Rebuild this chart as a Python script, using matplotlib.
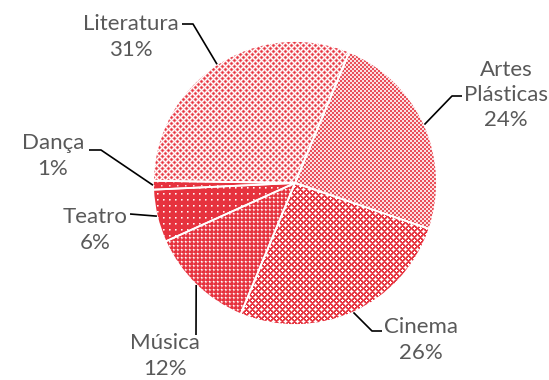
import numpy as np
import matplotlib.pyplot as plt

# dados do gráfico (sentido horário a partir de Artes Plásticas)
categorias = ['Artes\nPlásticas', 'Cinema', 'Música', 'Teatro', 'Dança', 'Literatura']
percentuais = [24, 26, 12, 6, 1, 31]

# posição dos rótulos e cotovelo das linhas de chamada (em pixels)
pos_rotulos = [(506, 95), (421, 340), (165, 356), (95, 230), (53, 156), (131, 37)]
cotovelos = [[(452, 96), (462, 96)],
             [(372, 331), (382, 331)],
             [(196, 335)],
             [(130, 214)],
             [(101, 150), (89, 150)],
             [(193, 24), (182, 24)]]

W, H = 549, 380
vermelho = np.array([230, 50, 62]) / 255

# padrões de preenchimento tipo Excel (1 = vermelho, 0 = branco)
padroes = [
    np.array([[.85, .85, .15, .15],
              [.85, .85, .15, .15],
              [.15, .15, .85, .85],
              [.15, .15, .85, .85]]),
    np.array([[0, 0, 1, 1, 1, 0],
              [0, 1, 1, .6, 1, 1],
              [1, 1, .6, 0, .6, 1],
              [1, .6, 0, 0, 0, .6],
              [1, 1, .6, 0, .6, 1],
              [0, 1, 1, .6, 1, 1]]),
    np.array([[1, .8, 1, 1],
              [.8, 0, .4, .8],
              [1, .4, .5, 1],
              [1, .8, 1, 1]]),
    np.array([[1, 1, 1, 1, 1, 1],
              [1, 0, .4, 1, 1, 1],
              [1, .4, .7, 1, 1, 1],
              [1, 1, 1, 1, 1, 1],
              [1, 1, 1, 1, 1, 1],
              [1, 1, 1, 1, 1, 1]]),
    np.array([[1, 1, 1, 1, 1, 1, 1, 1],
              [1, .2, .6, 1, 1, 1, 1, 1],
              [1, .6, .8, 1, 1, 1, 1, 1],
              [1, 1, 1, 1, 1, 1, 1, 1],
              [1, 1, 1, 1, 1, 1, 1, 1],
              [1, 1, 1, 1, 1, .2, .6, 1],
              [1, 1, 1, 1, 1, .6, .8, 1],
              [1, 1, 1, 1, 1, 1, 1, 1]]),
    np.array([[1, .8, .3, 0, .3, .8],
              [.8, .4, 0, .2, 0, .4],
              [.3, 0, .4, .8, .4, 0],
              [0, .2, .8, 1, .8, .2],
              [.3, 0, .4, .8, .4, 0],
              [.8, .4, 0, .2, 0, .4]]),
]

fig = plt.figure(figsize=(W / 100, H / 100), dpi=100)
ax = fig.add_axes([0, 0, 1, 1])

centro = (295, 183)
raio = 142
fatias, _ = ax.pie(percentuais, center=centro, radius=raio,
                   startangle=-67.5, counterclock=True,
                   wedgeprops=dict(facecolor='none', edgecolor='white',
                                   linewidth=1.3, zorder=3))

for fatia, tile in zip(fatias, padroes):
    ny = H // tile.shape[0] + 1
    nx = W // tile.shape[1] + 1
    v = np.tile(tile, (ny, nx))[:H, :W, None]
    img = (1 - v) + v * vermelho
    im = ax.imshow(img, extent=(0, W, H, 0), interpolation='nearest',
                   aspect='auto', zorder=1)
    im.set_clip_path(fatia)

for fatia, nome, pct, (tx, ty), pts in zip(fatias, categorias, percentuais,
                                           pos_rotulos, cotovelos):
    ang = np.deg2rad((fatia.theta1 + fatia.theta2) / 2)
    x0 = centro[0] + raio * np.cos(ang)
    y0 = centro[1] + raio * np.sin(ang)
    xs = [x0] + [p[0] for p in pts]
    ys = [y0] + [p[1] for p in pts]
    ax.plot(xs, ys, color='black', lw=1.2, zorder=4, solid_capstyle='butt')
    ax.text(tx, ty, f'{nome}\n{pct}%', ha='center', va='center',
            fontsize=16, family='Lato', color='#595959', linespacing=1.33)

ax.set_xlim(0, W)
ax.set_ylim(H, 0)
ax.axis('off')

plt.savefig('out.png', dpi=100)
